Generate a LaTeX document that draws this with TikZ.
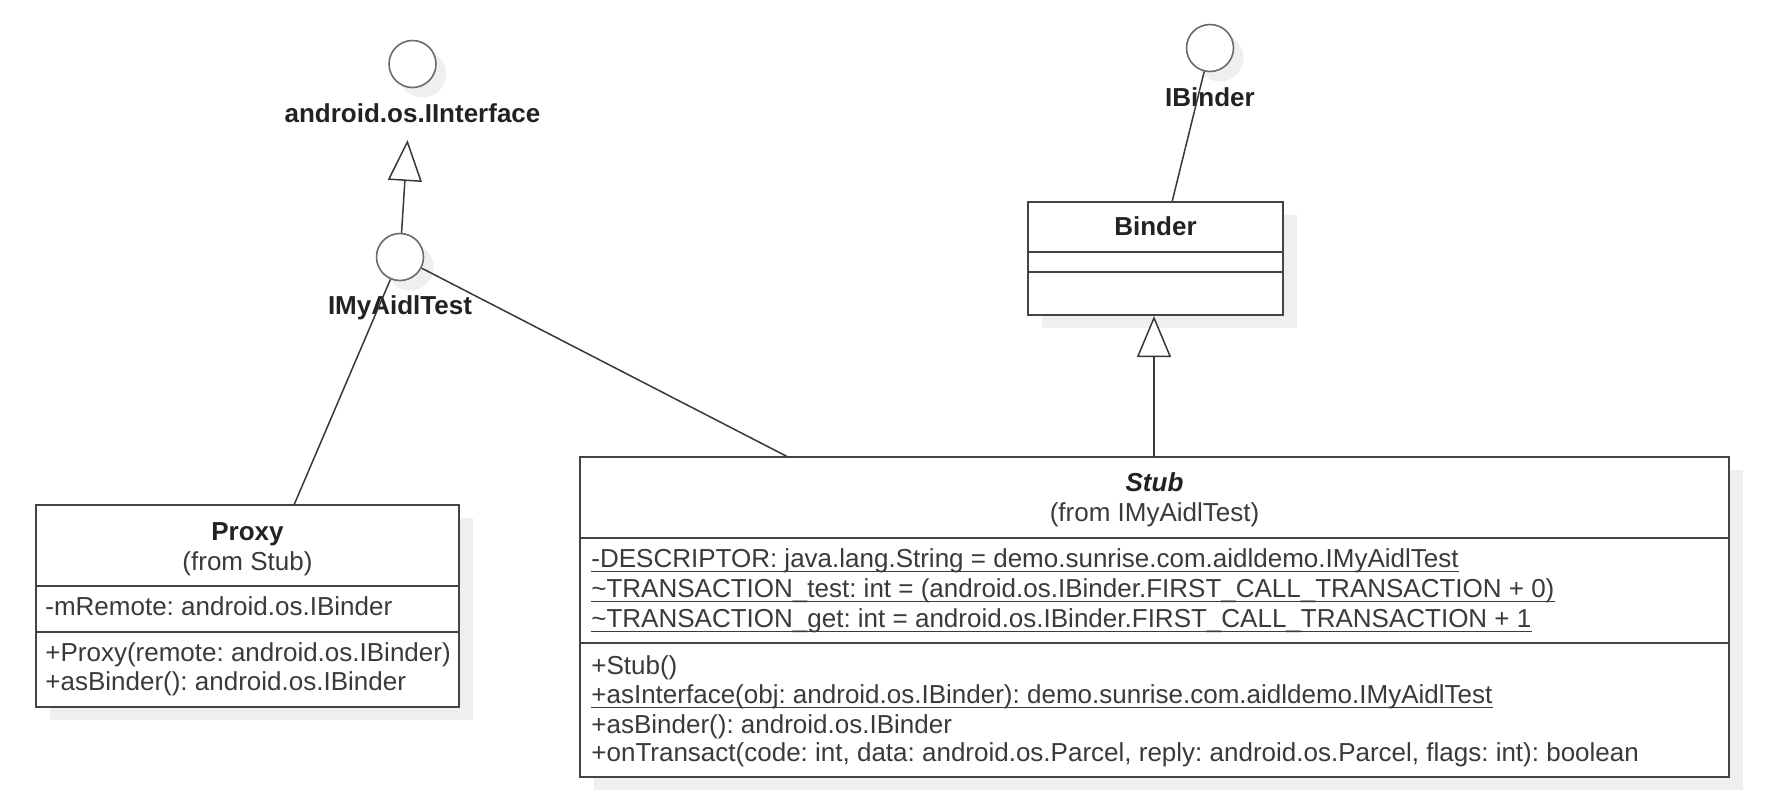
\documentclass[tikz,border=0pt]{standalone}
\usepackage{fontspec}
\setmainfont{Liberation Sans}
\usetikzlibrary{arrows.meta,shadows}
\frenchspacing
\definecolor{linec}{HTML}{383838}
\definecolor{boxc}{HTML}{444444}
\definecolor{circc}{HTML}{6A6A6A}
\definecolor{textc}{HTML}{3A3A3A}
\definecolor{titlec}{HTML}{222222}
\definecolor{shadc}{HTML}{EFEFEF}
\tikzset{
  classbox/.style={draw=boxc, line width=1.1pt, fill=white, inner sep=0pt,
    copy shadow={shadow xshift=7pt, shadow yshift=-6.5pt, fill=shadc, draw=none}},
  iface/.style={circle, draw=circc, line width=0.8pt, fill=white, minimum size=23.5pt, inner sep=0pt,
    copy shadow={shadow xshift=5pt, shadow yshift=-5pt, fill=shadc, draw=none}},
  lbl/.style={font=\fontsize{13pt}{15pt}\selectfont\bfseries, text=titlec, inner sep=0pt, anchor=base},
  txt/.style={font=\fontsize{13pt}{15pt}\selectfont, text=textc, inner sep=0pt, anchor=base west},
  ctxt/.style={font=\fontsize{13pt}{15pt}\selectfont, text=textc, inner sep=0pt, anchor=base},
  conn/.style={draw=linec, line width=0.75pt},
  gen/.style={conn, -{Triangle[open, length=20.5pt, width=17pt, fill=white]}},
  divider/.style={draw=boxc, line width=1.1pt},
  uline/.style={draw=textc, line width=0.6pt},
}
\begin{document}
\begin{tikzpicture}[x=0.5pt, y=-0.5pt]
\useasboundingbox (0,0) rectangle (1772,798);

% class boxes
\node[classbox, minimum width=211.5pt, minimum height=101pt] (proxy) at (247.5,606) {};
\node[classbox, minimum width=127.5pt, minimum height=56.5pt] (binder) at (1155.5,258.5) {};
\node[classbox, minimum width=574.5pt, minimum height=160pt] (stub) at (1154.5,617) {};

% dividers
\draw[divider] (36,586) -- (459,586);
\draw[divider] (36,632) -- (459,632);
\draw[divider] (1028,252) -- (1283,252);
\draw[divider] (1028,272) -- (1283,272);
\draw[divider] (580,538) -- (1729,538);
\draw[divider] (580,643) -- (1729,643);

% interface circles
\node[iface] (ii) at (412.5,64) {};
\node[iface] (im) at (400,257) {};
\node[iface] (ib) at (1210,48) {};

% interface labels
\node[lbl] (iilbl) at (412.5,122) {android.os.IInterface};
\node[lbl] (imlbl) at (400,314) {IMyAidlTest};
\node[lbl] (iblbl) at (1210,106) {IBinder};

% Proxy text
\node[lbl] (ptitle) at (247.5,540) {Proxy};
\node[ctxt] (pfrom) at (247.5,570) {(from Stub)};
\node[txt] (pa1) at (45,615) {-mRemote: android.os.IBinder};
\node[txt] (pm1) at (45,661) {+Proxy(remote: android.os.IBinder)};
\node[txt] (pm2) at (45,690) {+asBinder(): android.os.IBinder};

% Binder text
\node[lbl] (btitle) at (1155.5,235) {Binder};

% Stub text
\node[lbl, font=\fontsize{13pt}{15pt}\selectfont\bfseries\itshape] (stitle) at (1154.5,491) {Stub};
\node[ctxt] (sfrom) at (1154.5,521) {(from IMyAidlTest)};
\node[txt] (sa1) at (591,567) {-DESCRIPTOR: java.lang.String = demo.sunrise.com.aidldemo.IMyAidlTest};
\node[txt] (sa2) at (591,597) {\textasciitilde TRANSACTION\_test: int = (android.os.IBinder.FIRST\_CALL\_TRANSACTION + 0)};
\node[txt] (sa3) at (591,627) {\textasciitilde TRANSACTION\_get: int = android.os.IBinder.FIRST\_CALL\_TRANSACTION + 1};
\node[txt] (sm1) at (591,674) {+Stub()};
\node[txt] (sm2) at (591,703) {+asInterface(obj: android.os.IBinder): demo.sunrise.com.aidldemo.IMyAidlTest};
\node[txt] (sm3) at (591,733) {+asBinder(): android.os.IBinder};
\node[txt] (sm4) at (591,761) {+onTransact(code: int, data: android.os.Parcel, reply: android.os.Parcel, flags: int): boolean};

% underlines (static members)
\foreach \n in {sa1,sa2,sa3,sm2}
  \draw[uline] ([yshift=-2.3pt]\n.base west) -- ([yshift=-2.3pt]\n.base east);

% connector end points
\coordinate (tipA) at (407.5,140);
\coordinate (proxyTop) at (294,505);
\coordinate (stubTop) at (788,457);
\coordinate (binderTop) at (1172,202);
\coordinate (stubGen) at (1154,457);
\coordinate (binderBot) at (1154,316);

% connectors
\draw[gen] (im) -- (tipA);
\draw[conn] (im) -- (proxyTop);
\draw[conn] (im) -- (stubTop);
\draw[conn] (ib) -- (binderTop);
\draw[gen] (stubGen) -- (binderBot);
\end{tikzpicture}
\end{document}
